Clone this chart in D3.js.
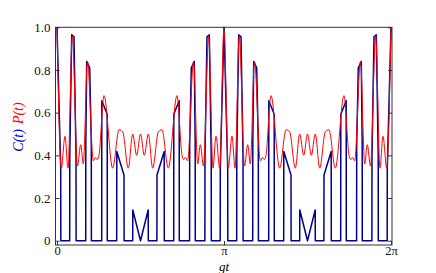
<!DOCTYPE html>
<html>
<head>
<meta charset="utf-8">
<script src="https://cdn.jsdelivr.net/npm/d3@7"></script>
<style>
  html, body { margin: 0; padding: 0; background: #fff; }
  svg text { font-family: "Liberation Serif", "DejaVu Serif", serif; }
</style>
</head>
<body>
<svg id="chart" width="436" height="273"></svg>
<script>
// time in units of pi (gt / pi)
const tBlue = [
  0, 0.0222, 0.0228, 0.0760, 0.0766, 0.0880, 0.1018, 0.1138, 0.1144,
  0.1719, 0.1725, 0.1778, 0.1958, 0.2054, 0.2060,
  0.2677, 0.2683, 0.2976, 0.3006, 0.3012,
  0.3575, 0.3581, 0.4012, 0.4018,
  0.4533, 0.4539, 0.5, 0.5461, 0.5467,
  0.5982, 0.5988, 0.6419, 0.6425,
  0.6988, 0.6994, 0.7024, 0.7317, 0.7323,
  0.7940, 0.7946, 0.8042, 0.8222, 0.8275, 0.8281,
  0.8856, 0.8862, 0.8982, 0.9120, 0.9234, 0.9240,
  0.9772, 0.9778, 1.0,
  1.0222, 1.0228, 1.0760, 1.0766, 1.0880, 1.1018, 1.1138, 1.1144,
  1.1719, 1.1725, 1.1778, 1.1958, 1.2054, 1.2060,
  1.2677, 1.2683, 1.2976, 1.3006, 1.3012,
  1.3575, 1.3581, 1.4012, 1.4018,
  1.4533, 1.4539, 1.5, 1.5461, 1.5467,
  1.5982, 1.5988, 1.6419, 1.6425,
  1.6988, 1.6994, 1.7024, 1.7317, 1.7323,
  1.7940, 1.7946, 1.8042, 1.8222, 1.8275, 1.8281,
  1.8856, 1.8862, 1.8982, 1.9120, 1.9234, 1.9240,
  1.9772, 1.9778, 2.0
];
const cValues = [
  1.0, 0.34, 0, 0, 0.40, 0.965, 0.955, 0.40, 0,
  0, 0.45, 0.84, 0.81, 0.45, 0,
  0, 0.656, 0.598, 0.59, 0,
  0, 0.418, 0.308, 0,
  0, 0.144, 0, 0.144, 0,
  0, 0.308, 0.418, 0,
  0, 0.59, 0.598, 0.656, 0,
  0, 0.45, 0.81, 0.84, 0.45, 0,
  0, 0.40, 0.955, 0.965, 0.40, 0,
  0, 0.34, 1.0,
  0.34, 0, 0, 0.40, 0.965, 0.955, 0.40, 0,
  0, 0.45, 0.84, 0.81, 0.45, 0,
  0, 0.656, 0.598, 0.59, 0,
  0, 0.418, 0.308, 0,
  0, 0.144, 0, 0.144, 0,
  0, 0.308, 0.418, 0,
  0, 0.59, 0.598, 0.656, 0,
  0, 0.45, 0.81, 0.84, 0.45, 0,
  0, 0.40, 0.955, 0.965, 0.40, 0,
  0, 0.34, 1.0
];

const tRed = [
  0, 0.0257, 0.0479, 0.0659, 0.0916, 0.1228, 0.1419, 0.1575, 0.1826,
  0.2174, 0.2317, 0.2413, 0.2515, 0.2814, 0.3335, 0.3713, 0.3934, 0.4269,
  0.4533, 0.4772, 0.5, 0.5228, 0.5467, 0.5731, 0.6066, 0.6287, 0.6665,
  0.7186, 0.7485, 0.7587, 0.7683, 0.7826, 0.8174, 0.8425, 0.8581, 0.8772,
  0.9084, 0.9341, 0.9521, 0.9743, 1.0,
  1.0257, 1.0479, 1.0659, 1.0916, 1.1228, 1.1419, 1.1575, 1.1826,
  1.2174, 1.2317, 1.2413, 1.2515, 1.2814, 1.3335, 1.3713, 1.3934, 1.4269,
  1.4533, 1.4772, 1.5, 1.5228, 1.5467, 1.5731, 1.6066, 1.6287, 1.6665,
  1.7186, 1.7485, 1.7587, 1.7683, 1.7826, 1.8174, 1.8425, 1.8581, 1.8772,
  1.9084, 1.9341, 1.9521, 1.9743, 2.0
];
const pValues = [
  1.0, 0.34, 0.49, 0.34, 0.96, 0.35, 0.45, 0.36, 0.84,
  0.375, 0.39, 0.38, 0.40, 0.68, 0.34, 0.52, 0.51, 0.34,
  0.50, 0.40, 0.50, 0.40, 0.50, 0.34, 0.51, 0.52, 0.34,
  0.68, 0.40, 0.38, 0.39, 0.375, 0.84, 0.36, 0.45, 0.35,
  0.96, 0.34, 0.49, 0.34, 1.0,
  0.34, 0.49, 0.34, 0.96, 0.35, 0.45, 0.36, 0.84,
  0.375, 0.39, 0.38, 0.40, 0.68, 0.34, 0.52, 0.51, 0.34,
  0.50, 0.40, 0.50, 0.40, 0.50, 0.34, 0.51, 0.52, 0.34,
  0.68, 0.40, 0.38, 0.39, 0.375, 0.84, 0.36, 0.45, 0.35,
  0.96, 0.34, 0.49, 0.34, 1.0
];

const yTicks = [0, 0.2, 0.4, 0.6, 0.8, 1.0];
const yTickLabels = ["0", "0.2", "0.4", "0.6", "0.8", "1.0"];
const xTicks = [0, 1, 2];
const xTickLabels = ["0", "π", "2π"];

const svg = d3.select("#chart");
const margin = { left: 55.5, right: 44, top: 27.3, bottom: 28 };
const width = 436, height = 273;
const innerW = width - margin.left - margin.right;
const innerH = height - margin.top - margin.bottom;

const x = d3.scaleLinear().domain([-0.009, 2.006]).range([margin.left, margin.left + innerW]);
const y = d3.scaleLinear().domain([-0.02, 1.0]).range([margin.top + innerH, margin.top]);

const axisColor = "#333";
const serif = "'Liberation Serif', 'DejaVu Serif', serif";

const blueData = tBlue.map((t, i) => [t, cValues[i]]);
const redData = tRed.map((t, i) => [t, pValues[i]]);

svg.append("defs").append("clipPath").attr("id", "clip")
  .append("rect")
  .attr("x", margin.left).attr("y", margin.top - 1)
  .attr("width", innerW).attr("height", innerH + 1);

const plot = svg.append("g").attr("clip-path", "url(#clip)");

plot.append("path")
  .datum(blueData)
  .attr("fill", "none")
  .attr("stroke", "#00008b")
  .attr("stroke-width", 1.5)
  .attr("stroke-linejoin", "round")
  .attr("d", d3.line().x(d => x(d[0])).y(d => y(d[1])));

plot.append("path")
  .datum(redData)
  .attr("fill", "none")
  .attr("stroke", "#ff0000")
  .attr("stroke-width", 1)
  .attr("d", d3.line().curve(d3.curveMonotoneX).x(d => x(d[0])).y(d => y(d[1])));

// frame
svg.append("rect")
  .attr("x", margin.left).attr("y", margin.top)
  .attr("width", innerW).attr("height", innerH)
  .attr("fill", "none").attr("stroke", axisColor).attr("stroke-width", 1);

// ticks point inward on all four sides
const axLeft = svg.append("g").attr("transform", `translate(${margin.left},0)`)
  .call(d3.axisLeft(y).tickValues(yTicks).tickSize(-4).tickPadding(5)
    .tickFormat((d, i) => yTickLabels[i]));
const axRight = svg.append("g").attr("transform", `translate(${margin.left + innerW},0)`)
  .call(d3.axisRight(y).tickValues(yTicks).tickSize(-4).tickFormat(""));
const axBottom = svg.append("g").attr("transform", `translate(0,${margin.top + innerH})`)
  .call(d3.axisBottom(x).tickValues(xTicks).tickSize(-4).tickPadding(1)
    .tickFormat((d, i) => xTickLabels[i]));
const axTop = svg.append("g").attr("transform", `translate(0,${margin.top})`)
  .call(d3.axisTop(x).tickValues(xTicks).tickSize(-4).tickFormat(""));

[axLeft, axRight, axBottom, axTop].forEach(g => {
  g.attr("font-family", serif);
  g.select(".domain").remove();
  g.selectAll("line").attr("stroke", axisColor);
  g.selectAll("text").attr("fill", "#111").style("font-size", "13px")
    .style("font-family", serif);
});
axBottom.selectAll("text").style("font-size", "12.5px");

// axis labels
svg.append("text")
  .attr("x", x(1)).attr("y", 270.5)
  .attr("text-anchor", "middle")
  .style("font-family", serif)
  .style("font-size", "13px").style("font-style", "italic")
  .text("gt");

const ylab = svg.append("text")
  .attr("transform", `translate(23,127) rotate(-90)`)
  .attr("text-anchor", "middle")
  .style("font-family", serif)
  .style("font-size", "14px").style("font-style", "italic");
ylab.append("tspan").attr("fill", "#0000cc").text("C(t)");
ylab.append("tspan").attr("fill", "#ff0000").attr("dx", 5).text("P(t)");
</script>
</body>
</html>
